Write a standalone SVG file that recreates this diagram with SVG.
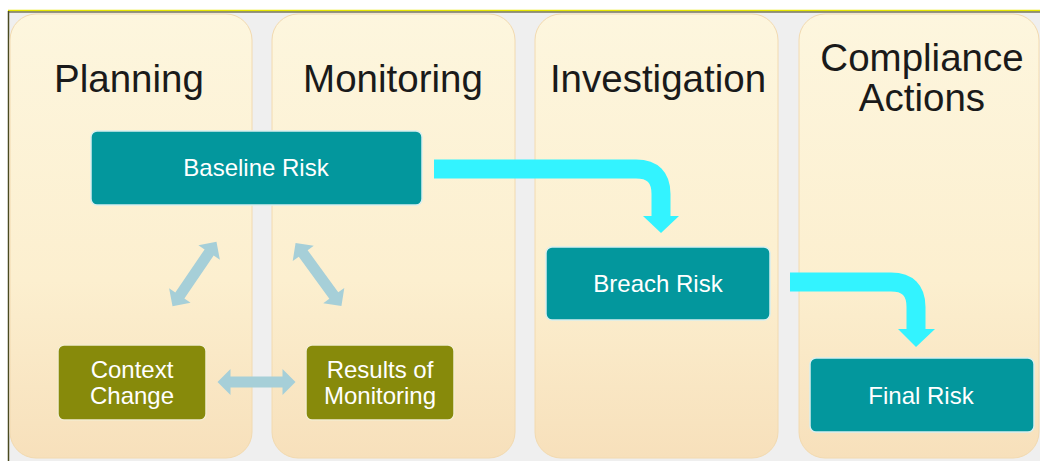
<svg xmlns="http://www.w3.org/2000/svg" width="1040" height="461" viewBox="0 0 1040 461">
<defs>
<linearGradient id="colg" x1="0" y1="0" x2="0" y2="1">
<stop offset="0" stop-color="#fdf6de"/>
<stop offset="0.6" stop-color="#fcefcf"/>
<stop offset="1" stop-color="#f7e0bb"/>
</linearGradient>
<polygon id="dbl" points="-39,0 -26,-13 -26,-5.5 26,-5.5 26,-13 39,0 26,13 26,5.5 -26,5.5 -26,13"/>
</defs>
<style>
.col{fill:url(#colg);stroke:#f2dab0;stroke-width:1}
.title{font-family:"Liberation Sans",Arial,sans-serif;font-size:38.5px;fill:#1a1a1a;text-anchor:middle}
.teal{fill:#03979d;stroke:#d8eeee;stroke-width:1.5}
.olive{fill:#878a0b;stroke:#f4ecd0;stroke-width:1.5}
.lbl{font-family:"Liberation Sans",Arial,sans-serif;font-size:24px;fill:#ffffff;text-anchor:middle}
.flow{fill:none;stroke:#33f3ff;stroke-width:19}
.head{fill:#33f3ff}
.dbl{fill:#a6cfd8}
</style>
<rect x="0" y="0" width="1040" height="461" fill="#ffffff"/>
<rect x="8" y="11" width="1032" height="450" fill="#efefef"/>
<line x1="8" y1="10.5" x2="1040" y2="10.5" stroke="#e6e600" stroke-width="1.5"/>
<line x1="8" y1="12" x2="1040" y2="12" stroke="#3a3a1a" stroke-width="1.2"/>
<line x1="8.5" y1="11" x2="8.5" y2="461" stroke="#4a4a20" stroke-width="1.5"/>

<g id="col-planning"><rect class="col" x="10" y="14" width="242" height="444" rx="26"/><text class="title" x="129" y="92">Planning</text></g>
<g id="col-monitoring"><rect class="col" x="272" y="14" width="243" height="444" rx="26"/><text class="title" x="393" y="92">Monitoring</text></g>
<g id="col-investigation"><rect class="col" x="535" y="14" width="243" height="444" rx="26"/><text class="title" x="658" y="92">Investigation</text></g>
<g id="col-compliance"><rect class="col" x="799" y="14" width="240" height="444" rx="26"/><text class="title" x="922" y="71">Compliance</text><text class="title" x="922" y="111">Actions</text></g>

<g id="connectors">
<path class="flow" d="M434,169 H636 Q661,169 661,194 V217"/>
<polygon class="head" points="643,216 679,216 661,233"/>
<path class="flow" d="M790,282 H891 Q916,282 916,307 V330"/>
<polygon class="head" points="898,329 935,329 916,347"/>
<use href="#dbl" class="dbl" transform="translate(194.5,274) rotate(-55.7)"/>
<use href="#dbl" class="dbl" transform="translate(318.5,274.5) rotate(54)"/>
<use href="#dbl" class="dbl" transform="translate(256.5,382)"/>
</g>

<g id="node-baseline"><rect class="teal" x="91" y="131" width="331" height="74" rx="6"/><text class="lbl" x="256" y="176">Baseline Risk</text></g>
<g id="node-breach"><rect class="teal" x="546" y="247" width="224" height="73" rx="6"/><text class="lbl" x="658" y="292">Breach Risk</text></g>
<g id="node-final"><rect class="teal" x="810" y="358" width="224" height="74" rx="6"/><text class="lbl" x="921" y="404">Final Risk</text></g>
<g id="node-context"><rect class="olive" x="58" y="345" width="148" height="75" rx="6"/><text class="lbl" x="132" y="378">Context</text><text class="lbl" x="132" y="404">Change</text></g>
<g id="node-results"><rect class="olive" x="306" y="345" width="148" height="75" rx="6"/><text class="lbl" x="380" y="378">Results of</text><text class="lbl" x="380" y="404">Monitoring</text></g>
</svg>
